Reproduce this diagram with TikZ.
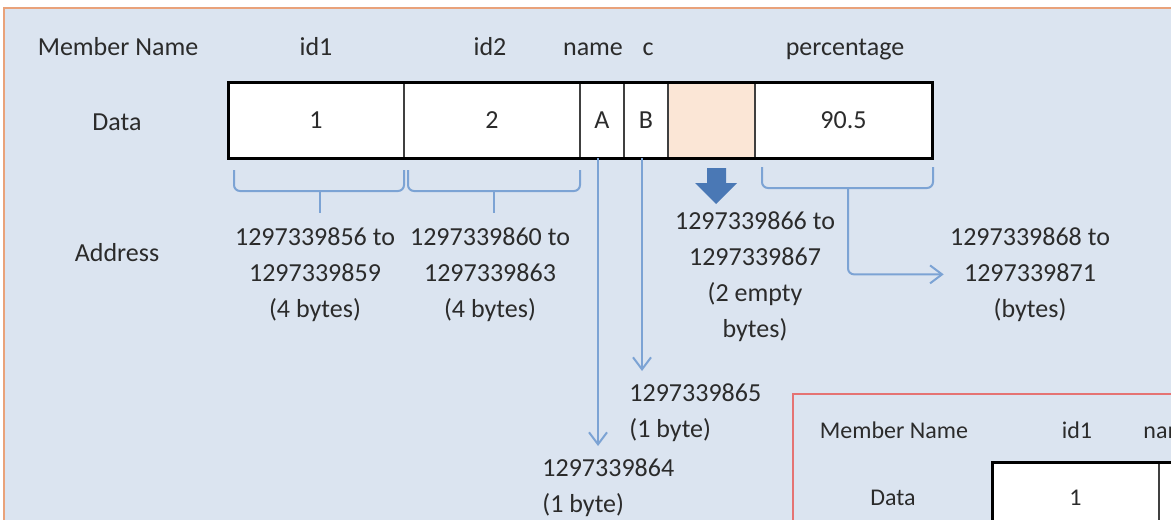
\documentclass[tikz,border=0pt]{standalone}
\usepackage{fontspec}
\setmainfont{Carlito}
\usetikzlibrary{positioning,arrows.meta}

\definecolor{sheet}{HTML}{DBE4F0}
\definecolor{sheetedge}{HTML}{E9A27A}
\definecolor{padfill}{HTML}{FBE6D6}
\definecolor{linkblue}{HTML}{7CA3D4}
\definecolor{blockblue}{HTML}{4A78B5}
\definecolor{rededge}{HTML}{E57373}
\definecolor{txt}{HTML}{2B2B2B}

\tikzset{
  lbl/.style={text=txt, font=\fontsize{13}{18}\selectfont, inner sep=0pt},
  small/.style={text=txt, font=\fontsize{12}{14}\selectfont, inner sep=0pt},
  cell/.style={draw=black!75, line width=1pt, fill=white, minimum height=37.5pt,
    outer sep=0pt, inner sep=0pt, text=txt, font=\fontsize{13}{18}\selectfont},
  frame/.style={draw=black, line width=1.5pt},
  addr/.style={lbl, align=center, anchor=north},
  bracket/.style={draw=linkblue, line width=1pt, rounded corners=3pt},
  link/.style={draw=linkblue, line width=1pt, -{Straight Barb[length=6pt,width=9pt]}},
}

\begin{document}
\begin{tikzpicture}[x=0.5pt, y=-0.5pt, node distance=0pt]
    \useasboundingbox (0,0) rectangle (1171,519);
    \clip (0,0) rectangle (1171,519);
    % Background sheet
    \fill[white] (0,0) rectangle (1171,519);
    \draw[sheetedge, fill=sheet, line width=1pt] (4,8) rectangle (1200,560);

    % Member names
    \node[lbl, anchor=base] (hName) at (118,56) {Member Name};
    \node[lbl, anchor=base] (h1) at (316,56) {id1};
    \node[lbl, anchor=base] (h2) at (490,56) {id2};
    \node[lbl, anchor=base] (hN) at (593,56) {name};
    \node[lbl, anchor=base] (hC) at (648,56) {c};
    \node[lbl, anchor=base] (hP) at (845,56) {percentage};

    % Data row
    \node[lbl, anchor=base] (dLbl) at (117,131) {Data};
    \node[cell, minimum width=88pt] (c1) at (316,120.5) {1};
    \node[cell, minimum width=88pt, right=of c1] (c2) {2};
    \node[cell, minimum width=22pt, right=of c2] (cA) {A};
    \node[cell, minimum width=22pt, right=of cA] (cB) {B};
    \node[cell, minimum width=43.5pt, right=of cB, fill=padfill] (cP) {};
    \node[cell, minimum width=88.5pt, right=of cP] (cF) {90.5};
    \draw[frame] (c1.north west) rectangle (cF.south east);

    % Addresses
    \node[lbl, anchor=base] (aLbl) at (117,261) {Address};
    \node[addr] (a1) at (315,227) {1297339856 to\\1297339859\\(4 bytes)};
    \node[addr] (a2) at (490,227) {1297339860 to\\1297339863\\(4 bytes)};
    \node[addr] (aP) at (755,211) {1297339866 to\\1297339867\\(2 empty\\bytes)};
    \node[addr] (aF) at (1030,227) {1297339868 to\\1297339871\\(bytes)};
    \node[lbl, align=left, anchor=north west] (aB) at (629,383) {1297339865\\(1 byte)};
    \node[lbl, align=left, anchor=north west] (aA) at (542,458) {1297339864\\(1 byte)};

    % Brackets under id1, id2, percentage
    \draw[bracket] (234,170) |- (404,191) -- (404,170);
    \draw[bracket] (320,191) -- (320,213);
    \draw[bracket] (408,170) |- (580,191) -- (580,170);
    \draw[bracket] (494,191) -- (494,213);
    \draw[bracket] (762,167) |- (933,188) -- (933,167);
    \coordinate (pTip) at (848,188);
    \draw[link, rounded corners=3pt] (pTip) |- ([xshift=-3pt]aF.west);

    % Arrows for the chars
    \draw[link, shorten >=6pt] ([xshift=-2pt]cA.south) -- ([xshift=-2pt]cA.south |- aA.north);
    \draw[link, shorten >=6pt] ([xshift=-2pt]cB.south) -- ([xshift=-2pt]cB.south |- aB.north);

    % Padding arrow
    \fill[blockblue] (707,168) -- (726,168) -- (726,183) -- (737,183) -- (716,204)
        -- (695,183) -- (707,183) -- cycle;

    % Second layout (cut off)
    \draw[rededge, line width=1.2pt] (793,394) rectangle (1200,560);
    \node[small, anchor=base] (hName2) at (894,438) {Member Name};
    \node[small, anchor=base] (h1b) at (1077,438) {id1};
    \node[small, anchor=base west] (hNb) at (1143,438) {name};
    \node[small, anchor=base] (dLbl2) at (893,505) {Data};
    \node[cell, minimum width=83.5pt, minimum height=36pt, font=\fontsize{12}{14}\selectfont] (c1b) at (1075.5,498) {1};
    \node[cell, minimum width=40pt, minimum height=36pt, right=of c1b] (c2b) {};
    \draw[frame] (c1b.south west) -- (c1b.north west) -- (1200,462);
\end{tikzpicture}
\end{document}
